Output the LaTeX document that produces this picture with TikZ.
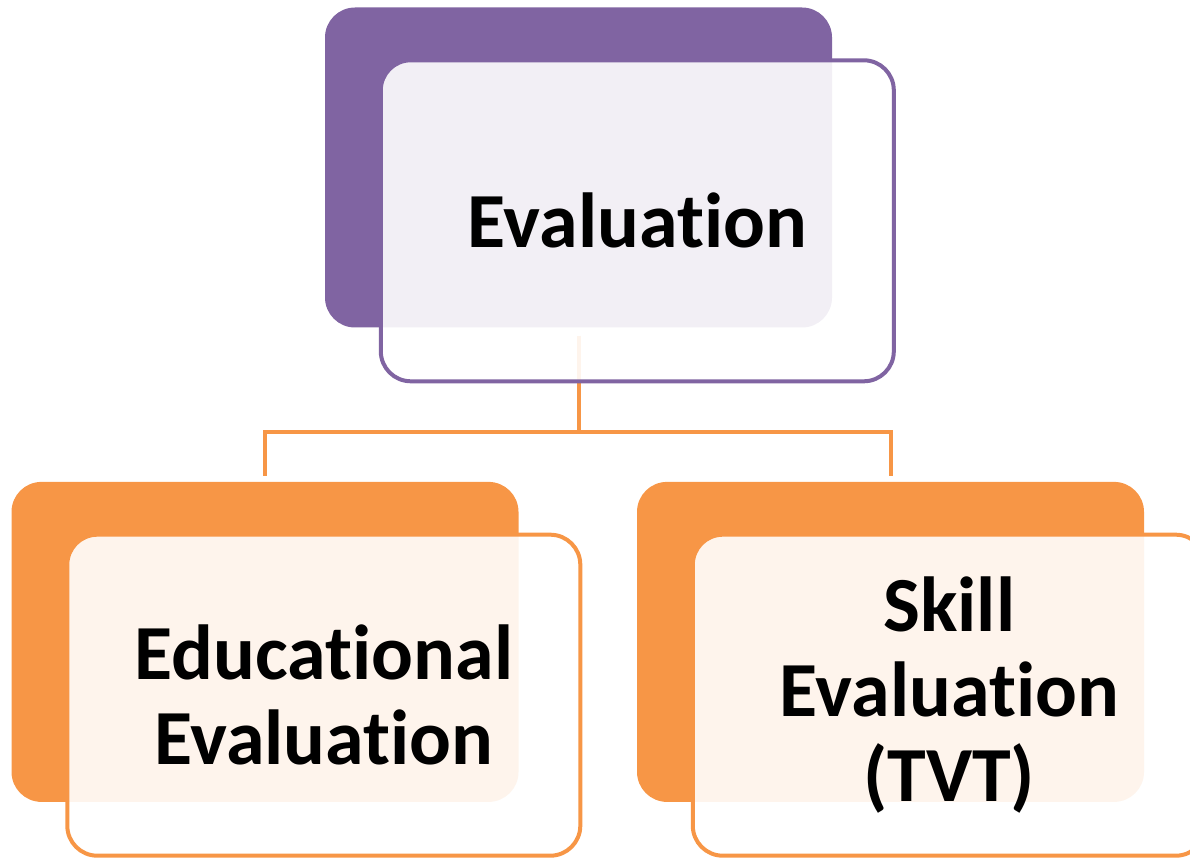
\documentclass[tikz,border=0pt]{standalone}
\usepackage{fontspec}
\setmainfont[Ligatures=NoCommon]{Carlito}
\usetikzlibrary{positioning}
\definecolor{evalpurple}{HTML}{8064A2}
\definecolor{evalorange}{HTML}{F79646}

\begin{document}
\begin{tikzpicture}[
	backbox/.style={rectangle, rounded corners=30pt, inner sep=0pt, minimum width=507pt, minimum height=320pt},
	frontbox/.style={rectangle, draw, rounded corners=30pt, line width=4pt, fill=white, fill opacity=0.9, text opacity=1, inner sep=0pt, minimum width=513pt, minimum height=321pt, align=center, font=\fontsize{78}{85}\selectfont\bfseries},
	conn/.style={draw=evalorange, line width=4pt}
]
\useasboundingbox (0,0) rectangle (1190pt,857pt);

\node[backbox, fill=evalpurple] (topback) at (578.5pt,689.5pt) {};
\node[backbox, fill=evalorange, below=154pt of topback, xshift=-313.5pt] (eduback) {};
\node[backbox, fill=evalorange, below=154pt of topback, xshift=312pt] (skillback) {};

\coordinate[below=104pt of topback.south] (split);
\draw[conn, shorten <=8pt] (topback.south) -- (split);
\foreach \j in {eduback, skillback}
	\draw[conn, shorten >=6pt] (split) -| (\j.north);

\node[frontbox, draw=evalpurple, below right=51pt and 54pt of topback.north west] (eval) {Evaluation};
\node[frontbox, draw=evalorange, below right=51pt and 54pt of eduback.north west] (edu) {Educational\\Evaluation};
\node[frontbox, draw=evalorange, below right=51pt and 54pt of skillback.north west] (skill) {Skill\\Evaluation\\(TVT)};

\end{tikzpicture}
\end{document}
